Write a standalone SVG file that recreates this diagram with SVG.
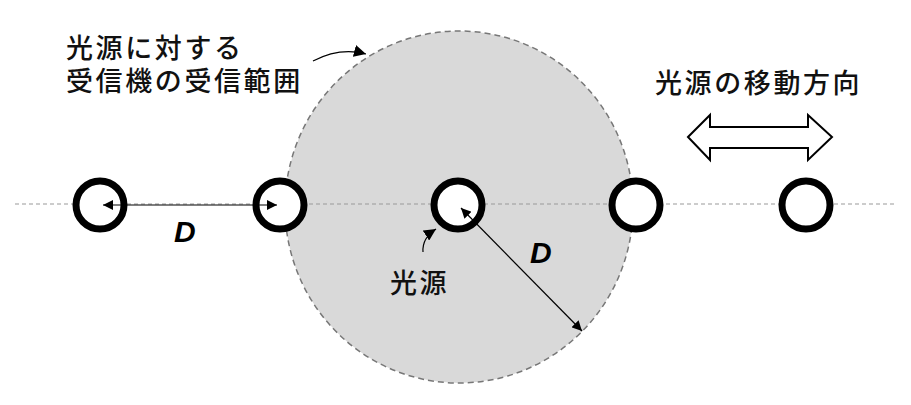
<svg xmlns="http://www.w3.org/2000/svg" width="911" height="405" viewBox="0 0 911 405">
<defs>
<style>
.lbl{font-family:"Noto Sans CJK JP","Noto Sans CJK SC",sans-serif;font-size:27px;font-weight:500;fill:#111;letter-spacing:2.6px}
.d{font-family:"Liberation Sans",Arial,sans-serif;font-size:30px;font-weight:bold;font-style:italic;fill:#000}
.ring{fill:#fff;stroke:#000;stroke-width:7}
.thin{fill:none;stroke:#000;stroke-width:1.2}
</style>
<marker id="ah" viewBox="0 0 10 10" refX="10" refY="5" markerWidth="10" markerHeight="10" markerUnits="userSpaceOnUse" orient="auto-start-reverse">
<path d="M0,0 L10,5 L0,10 Z" fill="#000"/>
</marker>
<marker id="ah2" viewBox="0 0 10 10" refX="10" refY="5" markerWidth="12" markerHeight="12" markerUnits="userSpaceOnUse" orient="auto">
<path d="M0,0 L10,5 L0,10 Z" fill="#000"/>
</marker>
</defs>
<rect width="911" height="405" fill="#fff"/>
<g id="range">
<ellipse cx="459" cy="207" rx="174" ry="176" fill="#d9d9d9" stroke="#777" stroke-width="1.5" stroke-dasharray="6,4"/>
</g>
<g id="axis">
<line x1="15" y1="204" x2="895" y2="204" stroke="#999" stroke-width="1.2" stroke-dasharray="4,3"/>
</g>
<g id="ring1"><circle class="ring" cx="100" cy="205" r="24"/></g>
<g id="ring2"><circle class="ring" cx="280" cy="205" r="24"/></g>
<g id="ring3"><circle class="ring" cx="458" cy="205" r="24"/></g>
<g id="ring4"><circle class="ring" cx="636" cy="205" r="24"/></g>
<g id="ring5"><circle class="ring" cx="806" cy="205" r="24"/></g>
<g id="connectors">
<line class="thin" x1="103" y1="205" x2="277" y2="205" marker-start="url(#ah)" marker-end="url(#ah)"/>
<line class="thin" x1="461" y1="208" x2="582" y2="331" marker-start="url(#ah)" marker-end="url(#ah)"/>
<path class="thin" d="M313,61 Q340,47 366,54" stroke-width="1.6" marker-end="url(#ah2)"/>
<path class="thin" d="M423,252 Q422,238 436,229" stroke-width="1.6" marker-end="url(#ah2)"/>
</g>
<g id="move-arrow">
<path d="M688,137 L710,115 L710,127 L808,127 L808,115 L832,137 L808,160 L808,148 L710,148 L710,160 Z" fill="#fff" stroke="#000" stroke-width="2"/>
</g>
<g id="labels">
<text class="lbl" x="66" y="58">光源に対する</text>
<text class="lbl" x="66" y="91">受信機の受信範囲</text>
<text class="lbl" x="655" y="93">光源の移動方向</text>
<text class="lbl" x="390" y="293">光源</text>
<text class="d" x="174" y="242">D</text>
<text class="d" x="530" y="263">D</text>
</g>
</svg>
